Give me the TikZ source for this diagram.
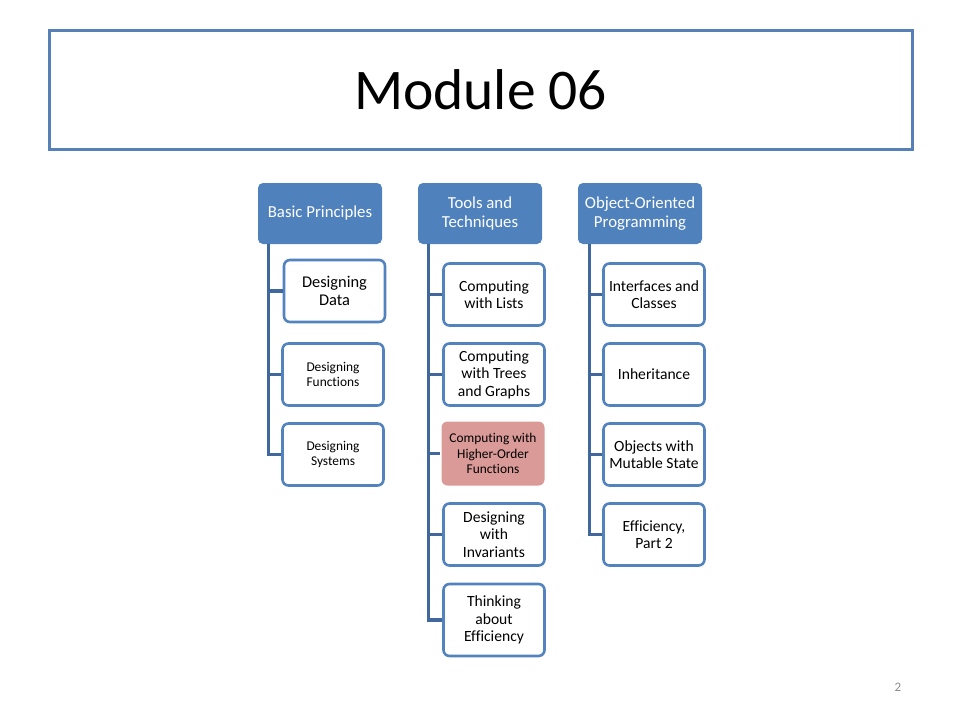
\documentclass[tikz,border=0pt]{standalone}
\usepackage{fontspec}
\setmainfont[Ligatures={NoCommon}, Contextuals={NoAlternate}]{Carlito}
\usetikzlibrary{calc}
\definecolor{hblue}{HTML}{4F81BD}
\definecolor{cblue}{HTML}{5283BE}
\definecolor{lblue}{HTML}{41689C}
\definecolor{tblue}{HTML}{5680B8}
\definecolor{pinkfill}{HTML}{DA9A98}
\definecolor{pgray}{HTML}{8C8C8C}
\begin{document}
\begin{tikzpicture}[x=1pt,y=-1pt,
  hdr/.style={fill=hblue, rounded corners=5pt, text=white, align=center,
    minimum width=124pt, minimum height=61pt, inner sep=0pt,
    font=\fontsize{16.8}{19}\selectfont},
  child/.style={draw=cblue, line width=2.6pt, fill=white, rounded corners=6pt,
    align=center, minimum width=101pt, minimum height=62pt, inner sep=0pt,
    font=\fontsize{15.6}{17.5}\selectfont},
  small/.style={font=\fontsize{13.4}{15.2}\selectfont},
  hot/.style={draw=none, fill=pinkfill, minimum width=103pt, minimum height=64pt},
  conn/.style={draw=lblue, line width=3.2pt},
  titlebox/.style={draw=tblue, line width=3pt, minimum width=863pt, minimum height=119pt,
    inner sep=0pt, font=\fontsize{57.5}{60}\selectfont}]
\useasboundingbox (0,0) rectangle (960,720);

\node[titlebox] (title) at (480.5,89.5) {Module 06};

% headers
\node[hdr] (h1) at (320,213.5) {Basic Principles};
\node[hdr] (h2) at (480,213.5) {Tools and\\Techniques};
\node[hdr] (h3) at (640,213.5) {Object-Oriented\\Programming};

% column 1
\node[child, font=\fontsize{16.4}{18.5}\selectfont] (c11) at (334.5,291) {Designing\\Data};
\node[child, small] (c12) at (333,374.5) {Designing\\Functions};
\node[child, small] (c13) at (333,454.5) {Designing\\Systems};

% column 2
\node[child] (c21) at (494,294.5) {Computing\\with Lists};
\node[child] (c22) at (494,374.5) {Computing\\with Trees\\and Graphs};
\node[child, small, hot] (c23) at (493,453.5) {Computing with\\Higher-Order\\Functions};
\node[child] (c24) at (494,534.5) {Designing\\with\\Invariants};
\node[child, minimum height=72pt] (c25) at (494,620) {Thinking\\about\\Efficiency};

% column 3
\node[child] (c31) at (654,294.5) {Interfaces and\\Classes};
\node[child] (c32) at (654,374.5) {Inheritance};
\node[child] (c33) at (654,454.5) {Objects with\\Mutable State};
\node[child] (c34) at (654,534.5) {Efficiency,\\Part 2};

% connectors
\coordinate (t1) at ($(h1.south west)+(11,0)$);
\coordinate (t2) at ($(h2.south west)+(11,0)$);
\coordinate (t3) at ($(h3.south west)+(11.5,0)$);

\draw[conn] (t1) |- (c13.west);
\draw[conn] (c11.west -| t1) -- (c11.west);
\draw[conn] (c12.west -| t1) -- (c12.west);

\draw[conn] (t2) |- (c25.west);
\draw[conn] (c21.west -| t2) -- (c21.west);
\draw[conn] (c22.west -| t2) -- (c22.west);
\draw[conn] (c23.west -| t2) -- (c23.west);
\draw[conn] (c24.west -| t2) -- (c24.west);

\draw[conn] (t3) |- (c34.west);
\draw[conn] (c31.west -| t3) -- (c31.west);
\draw[conn] (c32.west -| t3) -- (c32.west);
\draw[conn] (c33.west -| t3) -- (c33.west);

\node[text=pgray, font=\fontsize{13}{15}\selectfont, inner sep=0pt] (pg) at (898,687) {2};
\end{tikzpicture}
\end{document}
